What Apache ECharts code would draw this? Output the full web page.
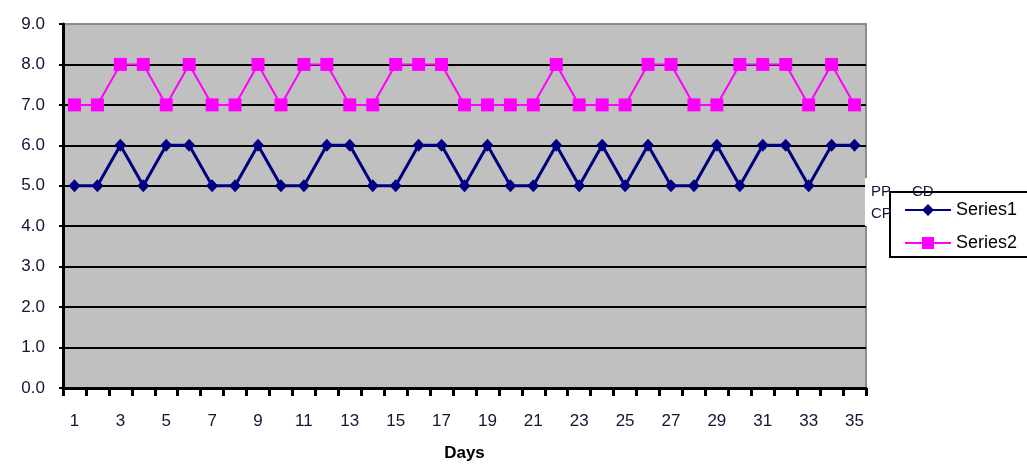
<!DOCTYPE html>
<html>
<head>
<meta charset="utf-8">
<script src="https://cdn.jsdelivr.net/npm/echarts@6/dist/echarts.min.js"></script>
<style>
html,body{margin:0;padding:0;background:#fff;}
#chart{width:1027px;height:464px;}
</style>
</head>
<body>
<div id="chart"></div>
<script>
const days = Array.from({length: 35}, (_, i) => String(i + 1));
const series1 = [5,5,6,5,6,6,5,5,6,5,5,6,6,5,5,6,6,5,6,5,5,6,5,6,5,6,5,5,6,5,6,6,5,6,6];
const series2 = [7,7,8,8,7,8,7,7,8,7,8,8,7,7,8,8,8,7,7,7,7,8,7,7,7,8,8,7,7,8,8,8,7,8,7];
const xAxisTitle = 'Days';
const yMin = 0, yMax = 9, yStep = 1;
const strayTexts = [
  {text: 'PP', x: 871, y: 184},
  {text: 'CD', x: 912, y: 184},
  {text: 'CP', x: 871, y: 206}
];

const FONT = 'Arial, "Liberation Sans", sans-serif';
const chart = echarts.init(document.getElementById('chart'), null, {renderer: 'canvas'});

chart.setOption({
  animation: false,
  backgroundColor: '#ffffff',
  grid: {
    left: 63, right: 161, top: 24, bottom: 76,
    containLabel: false,
    outerBoundsMode: 'none',
    show: true,
    backgroundColor: '#c0c0c0',
    borderColor: '#8c8c8c',
    borderWidth: 2
  },
  legend: {
    orient: 'vertical',
    left: 890,
    top: 192,
    itemWidth: 46,
    itemHeight: 15,
    itemGap: 15,
    padding: [9, 30, 5, 14],
    borderColor: '#000',
    borderWidth: 2,
    backgroundColor: '#fff',
    borderRadius: 0,
    textStyle: {fontFamily: FONT, fontSize: 18, lineHeight: 15, color: '#000'},
    data: ['Series1', 'Series2']
  },
  xAxis: {
    type: 'category',
    data: days,
    boundaryGap: true,
    name: xAxisTitle,
    nameLocation: 'middle',
    nameGap: 57,
    nameTextStyle: {fontFamily: FONT, fontSize: 17, fontWeight: 'bold', color: '#000', verticalAlign: 'top'},
    axisLine: {show: true, lineStyle: {color: '#000', width: 3}},
    axisTick: {show: true, interval: 0, alignWithLabel: false, length: 8, lineStyle: {color: '#000', width: 3}},
    axisLabel: {interval: 1, margin: 25, fontFamily: FONT, fontSize: 17, color: '#141433'},
    splitLine: {show: false}
  },
  yAxis: {
    type: 'value',
    min: yMin, max: yMax, interval: yStep,
    axisLine: {show: true, lineStyle: {color: '#000', width: 3}},
    axisTick: {show: true, length: 4, lineStyle: {color: '#000', width: 2}},
    axisLabel: {margin: 18, fontFamily: FONT, fontSize: 17, color: '#141433',
      formatter: v => v.toFixed(1)},
    splitLine: {show: true, showMinLine: false, showMaxLine: false, lineStyle: {color: '#000', width: 2}}
  },
  series: [
    {
      name: 'Series1',
      type: 'line',
      data: series1,
      symbol: 'diamond',
      symbolSize: [12, 13],
      color: '#000080',
      lineStyle: {color: '#000080', width: 3},
      itemStyle: {color: '#000080'},
      z: 3
    },
    {
      name: 'Series2',
      type: 'line',
      data: series2,
      symbol: 'rect',
      symbolSize: 13,
      color: '#ff00ff',
      lineStyle: {color: '#ff00ff', width: 2},
      itemStyle: {color: '#ff00ff'},
      z: 4
    }
  ],
  graphic: [
    {type: 'rect', left: 865, top: 178, shape: {width: 6, height: 48}, style: {fill: '#fff'}, z: 50}
  ].concat(strayTexts.map(t => ({
    type: 'text', left: t.x, top: t.y, z: 200,
    style: {text: t.text, fontFamily: FONT, fontSize: 15, fill: '#141433'}
  })))
});
</script>
</body>
</html>
